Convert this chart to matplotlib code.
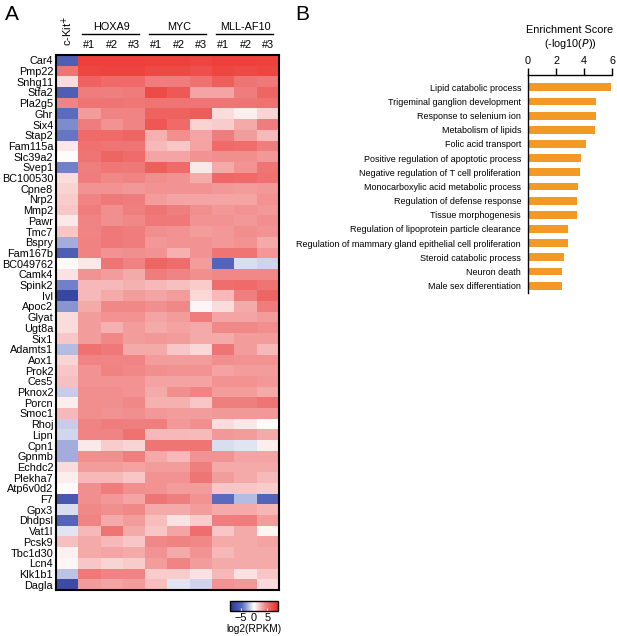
import numpy as np
import matplotlib
matplotlib.use("Agg")
import matplotlib.pyplot as plt
from matplotlib.colors import LinearSegmentedColormap

plt.rcParams['font.family'] = ['Liberation Sans', 'DejaVu Sans']

# ---- panel A data ----
genes = ["Car4", "Pmp22", "Snhg11", "Stfa2", "Pla2g5", "Ghr", "Six4", "Stap2",
         "Fam115a", "Slc39a2", "Svep1", "BC100530", "Cpne8", "Nrp2", "Mmp2",
         "Pawr", "Tmc7", "Bspry", "Fam167b", "BC049762", "Camk4", "Spink2",
         "Ivl", "Apoc2", "Glyat", "Ugt8a", "Six1", "Adamts1", "Aox1", "Prok2",
         "Ces5", "Pknox2", "Porcn", "Smoc1", "Rhoj", "Lipn", "Cpn1", "Gpnmb",
         "Echdc2", "Plekha7", "Atp6v0d2", "F7", "Gpx3", "Dhdpsl", "Vat1l",
         "Pcsk9", "Tbc1d30", "Lcn4", "Klk1b1", "Dagla"]
groups = ["HOXA9", "MYC", "MLL-AF10"]
reps = ["#1", "#2", "#3"]

# columns: c-Kit+, HOXA9 #1-3, MYC #1-3, MLL-AF10 #1-3  (log2 RPKM)
expr = [
    [-5.5, 7.8, 7.8, 7.8, 7.7, 7.7, 7.5, 7.8, 7.8, 7.7],
    [5.0, 7.5, 7.6, 7.6, 7.3, 7.3, 7.0, 7.5, 7.3, 7.5],
    [1.2, 6.0, 5.6, 5.6, 4.6, 4.6, 5.2, 6.2, 5.0, 4.8],
    [-5.5, 4.6, 4.5, 4.7, 7.2, 6.5, 3.2, 3.2, 4.6, 5.8],
    [4.3, 5.0, 5.0, 4.9, 5.0, 5.0, 5.1, 5.0, 5.0, 5.2],
    [-4.5, 3.5, 4.3, 4.3, 6.0, 6.0, 6.3, 1.2, 0.6, 1.5],
    [-3.5, 4.6, 3.8, 4.3, 6.6, 5.6, 1.6, 1.8, 3.0, 4.6],
    [-4.2, 5.6, 5.6, 5.8, 2.8, 4.0, 3.2, 4.6, 3.5, 2.4],
    [0.8, 5.2, 5.0, 5.0, 2.5, 2.0, 3.3, 5.6, 5.4, 4.5],
    [0.1, 5.0, 5.8, 5.5, 3.2, 3.2, 3.8, 4.0, 4.0, 3.6],
    [-3.8, 4.5, 4.9, 4.8, 6.2, 5.6, 0.8, 3.0, 3.8, 5.0],
    [1.2, 4.6, 4.2, 4.3, 4.0, 3.8, 3.0, 5.7, 5.6, 5.2],
    [1.6, 3.8, 3.8, 3.6, 3.8, 3.8, 3.8, 3.6, 3.5, 3.6],
    [1.8, 4.3, 4.8, 4.6, 3.5, 3.2, 3.2, 3.2, 3.2, 3.8],
    [2.0, 4.6, 4.0, 4.5, 5.0, 4.5, 4.0, 3.6, 3.8, 3.6],
    [0.8, 4.3, 4.0, 4.2, 4.8, 4.8, 3.8, 3.8, 3.6, 4.0],
    [2.0, 4.3, 4.8, 4.6, 4.0, 3.8, 3.5, 3.6, 4.0, 3.8],
    [-2.5, 4.4, 4.8, 4.6, 3.6, 3.8, 3.8, 3.6, 3.8, 3.0],
    [-5.5, 4.4, 3.8, 4.0, 3.8, 2.8, 3.8, 5.0, 5.0, 3.6],
    [0.2, 0.8, 5.0, 4.4, 5.8, 5.5, 3.5, -5.0, -1.0, -1.3],
    [1.0, 3.8, 3.5, 3.0, 4.6, 4.3, 4.0, 4.2, 4.2, 4.2],
    [-3.8, 2.5, 2.5, 2.8, 2.5, 2.2, 1.8, 5.4, 5.6, 5.0],
    [-7.5, 2.5, 3.0, 3.5, 3.2, 3.5, 1.4, 2.5, 4.5, 5.8],
    [-3.2, 3.0, 4.2, 4.2, 4.0, 4.2, 0.3, 1.2, 3.0, 4.6],
    [1.2, 3.5, 3.8, 3.8, 3.2, 3.5, 4.6, 3.2, 3.2, 3.5],
    [1.2, 3.5, 2.8, 3.5, 3.0, 3.3, 3.0, 4.2, 4.2, 4.0],
    [2.0, 3.5, 4.2, 3.5, 3.6, 3.5, 3.0, 3.0, 3.5, 3.5],
    [-2.0, 5.2, 4.8, 3.0, 3.0, 2.0, 1.4, 5.0, 3.5, 2.5],
    [1.5, 4.3, 4.3, 4.3, 3.5, 3.5, 3.5, 4.0, 3.8, 3.8],
    [2.0, 3.8, 4.4, 4.2, 4.0, 3.8, 3.8, 3.3, 3.5, 3.5],
    [2.2, 3.8, 3.8, 3.8, 3.3, 3.3, 3.3, 3.8, 3.8, 3.6],
    [-1.5, 4.0, 4.0, 3.8, 3.0, 4.0, 4.3, 3.5, 3.5, 3.0],
    [0.6, 4.0, 4.0, 4.2, 2.8, 2.8, 2.0, 4.5, 4.5, 5.0],
    [2.5, 4.0, 3.8, 4.0, 3.6, 3.5, 3.5, 3.6, 3.6, 3.6],
    [-1.5, 4.3, 4.6, 4.5, 4.5, 3.6, 4.0, 1.2, 0.8, 0.2],
    [-1.2, 4.3, 4.3, 5.2, 2.5, 2.5, 2.4, 3.6, 3.5, 3.0],
    [-2.5, 0.8, 1.8, 1.5, 5.0, 5.0, 5.0, -1.0, -0.8, 0.6],
    [-2.5, 4.0, 4.0, 4.5, 3.0, 2.5, 3.8, 3.8, 3.2, 3.2],
    [1.2, 3.5, 3.5, 3.3, 3.5, 3.5, 4.5, 3.0, 3.0, 3.0],
    [0.6, 2.5, 2.5, 2.0, 3.8, 3.8, 5.0, 3.5, 3.0, 2.4],
    [0.2, 4.0, 4.6, 4.0, 3.8, 3.5, 3.5, 2.0, 2.0, 1.8],
    [-6.0, 4.0, 3.6, 3.2, 5.0, 4.5, 3.8, -4.5, -2.0, -5.0],
    [-1.0, 4.2, 4.0, 4.2, 3.0, 3.0, 3.5, 3.0, 3.0, 2.6],
    [-5.0, 4.3, 3.0, 3.5, 2.3, 1.0, 1.8, 4.5, 4.6, 3.5],
    [-0.8, 2.5, 5.0, 3.0, 2.0, 3.2, 5.4, 2.0, 3.0, 0.4],
    [2.2, 3.0, 2.5, 2.0, 4.2, 4.4, 4.2, 3.0, 3.0, 3.3],
    [0.5, 3.0, 3.2, 3.0, 3.8, 3.0, 3.8, 2.5, 3.0, 3.0],
    [0.3, 2.0, 1.5, 1.8, 3.5, 4.3, 3.5, 3.0, 3.0, 3.0],
    [-1.8, 4.8, 4.3, 4.3, 1.8, 1.8, 1.0, 2.5, 1.0, 2.0],
    [-7.0, 3.5, 3.3, 3.5, 2.3, -0.8, -1.3, 3.8, 3.6, 1.3],
]

# ---- panel B data ----
terms = ["Lipid catabolic process", "Trigeminal ganglion development",
         "Response to selenium ion", "Metabolism of lipids",
         "Folic acid transport", "Positive regulation of apoptotic process",
         "Negative regulation of T cell proliferation",
         "Monocarboxylic acid metabolic process",
         "Regulation of defense response", "Tissue morphogenesis",
         "Regulation of lipoprotein particle clearance",
         "Regulation of mammary gland epithelial cell proliferation",
         "Steroid catabolic process", "Neuron death",
         "Male sex differentiation"]
scores = [5.93, 4.86, 4.86, 4.79, 4.12, 3.79, 3.71, 3.6, 3.5, 3.48,
          2.84, 2.84, 2.55, 2.43, 2.43]

W, H = 617, 636
fig = plt.figure(figsize=(W / 100, H / 100), dpi=100)

def box(x0, y0, x1, y1):
    # pixel box (top-left origin) -> figure fraction rect
    return [x0 / W, 1 - y1 / H, (x1 - x0) / W, (y1 - y0) / H]

cmap = LinearSegmentedColormap.from_list(
    "bwr_pub", ["#26348f", "#5a6bbf", "#ffffff", "#f08080", "#ec2a22"])

# heatmap
ax = fig.add_axes(box(56, 55, 279, 590))
data = np.array(expr)
im = ax.imshow(data, cmap=cmap, vmin=-9, vmax=9, aspect="auto",
               interpolation="nearest")
ax.set_yticks(range(len(genes)))
ax.set_yticklabels(genes, fontsize=7.8)
ax.set_xticks([])
ax.tick_params(axis="y", length=0, pad=2)
for s in ax.spines.values():
    s.set_linewidth(1.5)

# column header
ax.text(0, -2.74, "c-Kit$^{+}$", rotation=90, ha="center", va="center",
        fontsize=8)
for g, name in enumerate(groups):
    c0 = 1 + 3 * g
    ax.text(c0 + 1, -3.1, name, ha="center", va="center", fontsize=7.8)
    ax.plot([c0 - 0.33, c0 + 2.22], [-2.43, -2.43], color="black", lw=1,
            clip_on=False, scalex=False, scaley=False)
    for k, r in enumerate(reps):
        ax.text(c0 + k, -1.41, r, ha="center", va="center", fontsize=7.8)
ax.set_xlim(-0.5, data.shape[1] - 0.5)
ax.set_ylim(data.shape[0] - 0.5, -0.5)

# colorbar
cax = fig.add_axes(box(230, 601, 278, 611))
cb = fig.colorbar(im, cax=cax, orientation="horizontal", ticks=[-5, 0, 5])
cb.outline.set_linewidth(1)
cax.tick_params(axis="x", direction="in", length=2.5, color="white",
                labelcolor="black", labelsize=7.8, pad=1.5)
cb.set_label("log2(RPKM)", fontsize=7.3, labelpad=1)

# bar chart
bx = fig.add_axes(box(528, 75, 612, 293))
ypos = np.arange(len(terms))
bx.barh(ypos, scores, height=0.56, color="#f39a26")
bx.set_xlim(0, 6)
bx.set_ylim(len(terms) - 1 + 0.52, -0.87)
bx.set_yticks(ypos)
bx.set_yticklabels(terms, fontsize=6.5)
bx.tick_params(axis="y", length=0, pad=5)
bx.xaxis.tick_top()
bx.set_xticks([0, 2, 4, 6])
bx.tick_params(axis="x", direction="out", length=5, width=1, labelsize=7.8,
               pad=1.5)
bx.spines["right"].set_visible(False)
bx.spines["bottom"].set_visible(False)
bx.spines["top"].set_linewidth(1)
bx.spines["left"].set_linewidth(1)
bx.text(0.5, 1.206, "Enrichment Score", transform=bx.transAxes,
        ha="center", va="center", fontsize=7.8)
bx.text(0.5, 1.142, "(-log10($\\it{P}$))", transform=bx.transAxes,
        ha="center", va="center", fontsize=7.8)

fig.text(5 / W, 1 - 20 / H, "A", fontsize=15, va="baseline")
fig.text(295 / W, 1 - 20 / H, "B", fontsize=15, va="baseline")

fig.savefig("out.png", dpi=100)
